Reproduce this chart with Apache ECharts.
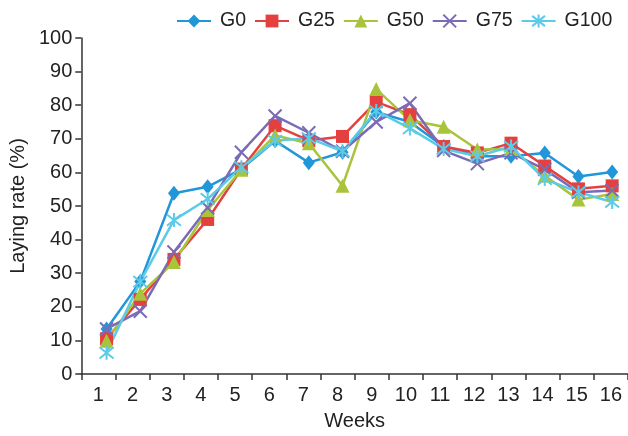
<!DOCTYPE html>
<html>
<head>
<meta charset="utf-8">
<script src="https://cdn.jsdelivr.net/npm/echarts@6/dist/echarts.min.js"></script>
<style>html,body{margin:0;padding:0;background:#fff;}#c{width:628px;height:436px;}</style>
</head>
<body>
<div id="c"></div>
<script>
var weeks = [1,2,3,4,5,6,7,8,9,10,11,12,13,14,15,16];
var seriesNames = ['G0','G25','G50','G75','G100'];
var G0   = [13.4, 27.5, 53.8, 55.7, 61.0, 69.4, 62.9, 66.0, 78.0, 75.0, 67.7, 64.8, 64.8, 65.8, 58.8, 60.1];
var G25  = [10.5, 22.2, 34.1, 46.0, 61.0, 73.9, 69.5, 70.7, 81.0, 77.2, 67.7, 65.8, 68.7, 61.9, 55.1, 56.0];
var G50  = [9.9, 23.9, 33.3, 48.8, 60.8, 71.0, 68.7, 56.0, 84.8, 75.5, 73.6, 66.8, 67.0, 59.0, 51.9, 53.6];
var G75  = [13.4, 18.7, 36.3, 49.5, 66.0, 76.8, 71.8, 66.3, 75.0, 80.6, 66.5, 62.6, 65.8, 60.9, 54.1, 54.6];
var G100 = [6.3, 27.5, 45.8, 52.1, 61.5, 69.4, 70.2, 66.3, 78.3, 73.1, 67.0, 64.8, 67.7, 58.0, 54.1, 51.2];
var yTicks = [0,10,20,30,40,50,60,70,80,90,100];

var values = [G0, G25, G50, G75, G100];
var colors = ['#2196d8', '#e4403f', '#a9c43a', '#7b6bb6', '#5ccbe8'];
var symbols = [
  'diamond',
  'rect',
  'triangle',
  'path://M0,0L10,10M10,0L0,10',
  'path://M0,1L10,9M10,1L0,9M5,0L5,10'
];
var sizes = [[12,15], 13, 14, 13, 14];
var font = 'Liberation Sans, Arial, Helvetica, sans-serif';

var chart = echarts.init(document.getElementById('c'), null, {renderer: 'canvas'});

var series = seriesNames.map(function (n, i) {
  var stroked = i >= 3;
  return {
    name: n,
    type: 'line',
    xAxisIndex: 1,
    yAxisIndex: 0,
    data: weeks.map(function (w, k) { return [w, values[i][k]]; }),
    symbol: symbols[i],
    symbolSize: sizes[i],
    showAllSymbol: true,
    lineStyle: {color: colors[i], width: 2.5},
    itemStyle: {
      color: stroked ? 'rgba(0,0,0,0)' : colors[i],
      borderColor: colors[i],
      borderWidth: stroked ? 2 : 0,
      opacity: 1
    },
    emphasis: {disabled: true},
    animation: false
  };
});

chart.setOption({
  animation: false,
  textStyle: {fontFamily: font},
  grid: {left: 75, right: -5, top: 38, bottom: 56, containLabel: false},
  legend: {
    left: 171,
    top: 6,
    width: 457,
    itemWidth: 34,
    itemHeight: 16,
    itemGap: 8,
    textStyle: {fontSize: 19.5, color: '#222', fontFamily: font, padding: [0, 0, 0, 4]},
    data: seriesNames
  },
  xAxis: [
    {
      type: 'category',
      data: weeks.map(String),
      boundaryGap: true,
      name: 'Weeks',
      nameLocation: 'middle',
      nameGap: 37,
      nameTextStyle: {fontSize: 20, color: '#222', fontFamily: font},
      axisLine: {show: true, onZero: false, lineStyle: {color: '#333', width: 1.5}},
      axisTick: {show: true, alignWithLabel: false, length: 6, lineStyle: {color: '#333', width: 1.5}},
      axisLabel: {fontSize: 20, color: '#222', margin: 11, fontFamily: font, interval: 0},
      splitLine: {show: false}
    },
    {
      type: 'value',
      min: 0.25,
      max: 16.47,
      show: false
    }
  ],
  yAxis: [{
    type: 'value',
    min: 0,
    max: 100,
    interval: 10,
    name: 'Laying rate (%)',
    nameLocation: 'middle',
    nameGap: 46,
    nameTextStyle: {fontSize: 20, color: '#222', fontFamily: font},
    axisLine: {show: true, lineStyle: {color: '#333', width: 1.5}},
    axisTick: {show: true, length: 6, lineStyle: {color: '#333', width: 1.5}},
    axisLabel: {fontSize: 20, color: '#222', margin: 9, fontFamily: font,
      formatter: function (v) { return yTicks.indexOf(v) >= 0 ? String(v) : ''; }},
    splitLine: {show: false}
  }],
  series: series
});
</script>
</body>
</html>
